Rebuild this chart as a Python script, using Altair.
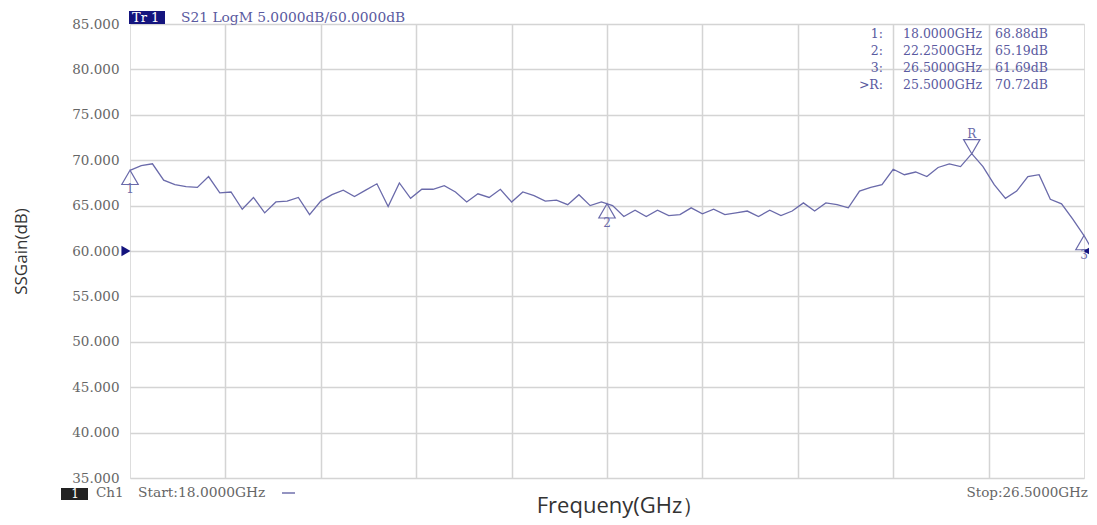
import altair as alt
import pandas as pd

# ---- data ----
freq_ghz = [18.0, 18.1, 18.2, 18.3, 18.4, 18.5, 18.6, 18.7, 18.8, 18.9,
            19.0, 19.1, 19.2, 19.3, 19.4, 19.5, 19.6, 19.7, 19.8, 19.9,
            20.0, 20.1, 20.2, 20.3, 20.4, 20.5, 20.6, 20.7, 20.8, 20.9,
            21.0, 21.1, 21.2, 21.3, 21.4, 21.5, 21.6, 21.7, 21.8, 21.9,
            22.0, 22.1, 22.2, 22.3, 22.4, 22.5, 22.6, 22.7, 22.8, 22.9,
            23.0, 23.1, 23.2, 23.3, 23.4, 23.5, 23.6, 23.7, 23.8, 23.9,
            24.0, 24.1, 24.2, 24.3, 24.4, 24.5, 24.6, 24.7, 24.8, 24.9,
            25.0, 25.1, 25.2, 25.3, 25.4, 25.5, 25.6, 25.7, 25.8, 25.9,
            26.0, 26.1, 26.2, 26.3, 26.4, 26.5]
gain_db = [68.88, 69.4, 69.6, 67.8, 67.3, 67.1, 67.0, 68.2, 66.4, 66.5,
           64.6, 65.9, 64.2, 65.4, 65.5, 65.9, 64.0, 65.5, 66.2, 66.7,
           66.0, 66.7, 67.4, 64.9, 67.5, 65.8, 66.8, 66.8, 67.2, 66.5,
           65.4, 66.3, 65.9, 66.8, 65.4, 66.5, 66.1, 65.5, 65.6, 65.1,
           66.2, 65.0, 65.4, 65.0, 63.8, 64.5, 63.8, 64.5, 63.9, 64.0,
           64.75, 64.1, 64.6, 64.0, 64.2, 64.4, 63.8, 64.5, 63.9, 64.4,
           65.3, 64.4, 65.3, 65.1, 64.75, 66.6, 67.0, 67.3, 69.0, 68.4,
           68.7, 68.2, 69.2, 69.6, 69.3, 70.72, 69.3, 67.3, 65.8, 66.6,
           68.2, 68.4, 65.7, 65.2, 63.5, 61.69]

marker_names = ["1", "2", "3", "R"]
marker_freq = [18.0, 22.25, 26.5, 25.5]
marker_gain = [68.88, 65.19, 61.69, 70.72]
marker_dir = ["up", "up", "up", "down"]

table_labels = ["1:", "2:", "3:", ">R:"]
table_freq = ["18.0000GHz", "22.2500GHz", "26.5000GHz", "25.5000GHz"]
table_gain = ["68.88dB", "65.19dB", "61.69dB", "70.72dB"]
table_row = [0, 1, 2, 3]

y_ticks = [35, 40, 45, 50, 55, 60, 65, 70, 75, 80, 85]
x_grid = [18.85, 19.7, 20.55, 21.4, 22.25, 23.1, 23.95, 24.8, 25.65]
ref_level = [60]

header_tr = ["Tr 1"]
header_text = ["S21 LogM 5.0000dB/60.0000dB"]
footer_ch = ["1"]
footer_ch_label = ["Ch1"]
footer_start = ["Start:18.0000GHz"]
footer_stop = ["Stop:26.5000GHz"]

# ---- styling ----
TRACE = "#6a6aaa"
NAVY = "#14147e"
LABEL_GRAY = "#666666"
SERIF = "DejaVu Serif"

W, H = 954, 454

xs = alt.Scale(domain=[18, 26.5], nice=False, zero=False)
ys = alt.Scale(domain=[35, 85], nice=False, zero=False)

trace_df = pd.DataFrame({"freq": freq_ghz, "gain": gain_db})
mk_df = pd.DataFrame({"name": marker_names, "freq": marker_freq,
                      "gain": marker_gain, "dir": marker_dir})
tb_df = pd.DataFrame({"lab": table_labels, "f": table_freq,
                      "g": table_gain, "row": table_row})

line = alt.Chart(trace_df).mark_line(color=TRACE, strokeWidth=1.3).encode(
    x=alt.X("freq:Q", scale=xs,
            axis=alt.Axis(values=x_grid, labels=False, ticks=False, domain=False,
                          grid=True, gridColor="#d4d4d4", gridWidth=1.5,
                          title="Frequeny(GHz）", titleFont="Open Sans",
                          titleFontSize=22, titleFontWeight="normal",
                          titleColor="#333333", titleX=490, titleY=17,
                          titleBaseline="top")),
    y=alt.Y("gain:Q", scale=ys,
            axis=alt.Axis(values=y_ticks, format=".3f", tickSize=0, domain=False,
                          grid=True, gridColor="#d4d4d4", gridWidth=1.5,
                          labelFont=SERIF, labelFontSize=13.5, labelColor=LABEL_GRAY,
                          labelPadding=11,
                          title="SSGain(dB)", titleFont="Open Sans", titleFontSize=17,
                          titleFontWeight="normal", titleColor="#333333",
                          titleX=-100, titleY=227)),
)

up = alt.Chart(mk_df).transform_filter(alt.datum.dir == "up").mark_point(
    shape="triangle-up", filled=False, size=270, color=TRACE, strokeWidth=1.2,
    yOffset=7, opacity=1).encode(x=alt.X("freq:Q", scale=xs), y=alt.Y("gain:Q", scale=ys))
down = alt.Chart(mk_df).transform_filter(alt.datum.dir == "down").mark_point(
    shape="triangle-down", filled=False, size=270, color=TRACE, strokeWidth=1.2,
    yOffset=-7, opacity=1).encode(x=alt.X("freq:Q", scale=xs), y=alt.Y("gain:Q", scale=ys))
up_lab = alt.Chart(mk_df).transform_filter(alt.datum.dir == "up").mark_text(
    font=SERIF, fontSize=12, color=TRACE, dy=19).encode(
    x=alt.X("freq:Q", scale=xs), y=alt.Y("gain:Q", scale=ys), text="name:N")
down_lab = alt.Chart(mk_df).transform_filter(alt.datum.dir == "down").mark_text(
    font=SERIF, fontSize=12, color=TRACE, dy=-20).encode(
    x=alt.X("freq:Q", scale=xs), y=alt.Y("gain:Q", scale=ys), text="name:N")

ref_df = pd.DataFrame({"gain": ref_level})
ref_l = alt.Chart(ref_df).mark_point(shape="triangle-right", filled=True, size=110,
                                     color=NAVY, opacity=1, xOffset=-4).encode(
    x=alt.value(0), y=alt.Y("gain:Q", scale=ys))
ref_r = alt.Chart(ref_df).mark_point(shape="triangle-left", filled=True, size=110,
                                     color=NAVY, opacity=1, xOffset=4).encode(
    x=alt.value(W), y=alt.Y("gain:Q", scale=ys))

# marker table (top right)
tb = alt.Chart(tb_df).transform_calculate(gain="83.9 - 1.87 * datum.row")
tb_lab = tb.mark_text(font=SERIF, fontSize=12.5, color="#5a5aa0", align="right").encode(
    x=alt.value(753), y=alt.Y("gain:Q", scale=ys), text="lab:N")
tb_f = tb.mark_text(font=SERIF, fontSize=12.5, color="#5a5aa0", align="left").encode(
    x=alt.value(773), y=alt.Y("gain:Q", scale=ys), text="f:N")
tb_g = tb.mark_text(font=SERIF, fontSize=12.5, color="#5a5aa0", align="left").encode(
    x=alt.value(865), y=alt.Y("gain:Q", scale=ys), text="g:N")

# header
tr_box = alt.Chart(pd.DataFrame({"t": header_tr})).mark_rect(color=NAVY).encode(
    x=alt.value(-1), x2=alt.value(35), y=alt.value(-13), y2=alt.value(0))
tr_txt = alt.Chart(pd.DataFrame({"t": header_tr})).mark_text(
    font=SERIF, fontSize=13, color="white", align="left", baseline="middle").encode(
    x=alt.value(2), y=alt.value(-6), text="t:N")
hd_txt = alt.Chart(pd.DataFrame({"t": header_text})).mark_text(
    font=SERIF, fontSize=13.8, color="#5a5aa0", align="left", baseline="middle").encode(
    x=alt.value(51), y=alt.value(-6), text="t:N")

# footer
ch_box = alt.Chart(pd.DataFrame({"t": footer_ch})).mark_rect(color="#222222").encode(
    x=alt.value(-69), x2=alt.value(-42), y=alt.value(10 + H), y2=alt.value(22 + H))
ch_num = alt.Chart(pd.DataFrame({"t": footer_ch})).mark_text(
    font=SERIF, fontSize=12, color="white", baseline="middle").encode(
    x=alt.value(-55), y=alt.value(16 + H), text="t:N")
ch_lab = alt.Chart(pd.DataFrame({"t": footer_ch_label})).mark_text(
    font=SERIF, fontSize=13.5, color=LABEL_GRAY, align="left", baseline="middle").encode(
    x=alt.value(-34), y=alt.value(15 + H), text="t:N")
st_txt = alt.Chart(pd.DataFrame({"t": footer_start})).mark_text(
    font=SERIF, fontSize=13.8, color=LABEL_GRAY, align="left", baseline="middle").encode(
    x=alt.value(8), y=alt.value(15 + H), text="t:N")
st_dash = alt.Chart(pd.DataFrame({"t": footer_start})).mark_rule(
    color="#5a5aa0", strokeWidth=1.3).encode(
    x=alt.value(152), x2=alt.value(165), y=alt.value(15 + H))
sp_txt = alt.Chart(pd.DataFrame({"t": footer_stop})).mark_text(
    font=SERIF, fontSize=13.5, color=LABEL_GRAY, align="right", baseline="middle").encode(
    x=alt.value(W + 4), y=alt.value(15 + H), text="t:N")

chart = alt.layer(
    line, up, down, up_lab, down_lab, ref_l, ref_r,
    tb_lab, tb_f, tb_g, tr_box, tr_txt, hd_txt,
    ch_box, ch_num, ch_lab, st_txt, st_dash, sp_txt,
).properties(
    width=W, height=H,
    autosize=alt.AutoSizeParams(type="none"),
    padding={"left": 122, "top": 16, "right": 5, "bottom": 43},
).configure_view(
    stroke="#a8a8a8", strokeWidth=1.5, fill="white"
).configure(background="white")

chart.save("out.html", embed_options={"renderer": "svg", "actions": False})
